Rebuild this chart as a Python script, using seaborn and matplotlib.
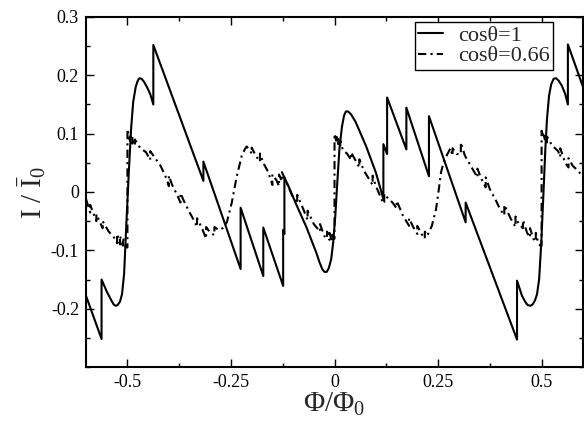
import numpy as np
import pandas as pd
import matplotlib
matplotlib.use("Agg")
import matplotlib.pyplot as plt
import seaborn as sns
from matplotlib.ticker import MultipleLocator

# cos(theta)=1 curve (duplicate x = vertical jump)
phi_1 = [-0.600, -0.5625, -0.5625, -0.549, -0.538, -0.533, -0.529, -0.524, -0.518, -0.513,
         -0.508, -0.503, -0.497, -0.491, -0.486, -0.480, -0.475, -0.471, -0.466, -0.460,
         -0.453, -0.445, -0.4375, -0.4375, -0.3166, -0.3166, -0.2267, -0.2267, -0.172,
         -0.172, -0.124, -0.124, -0.121, -0.121, -0.110, -0.092, -0.068, -0.044, -0.036,
         -0.029, -0.024, -0.019, -0.014, -0.008, -0.003, 0.002, 0.007, 0.012, 0.018,
         0.023, 0.0275, 0.033, 0.040, 0.051, 0.076, 0.100, 0.118, 0.118, 0.127, 0.127,
         0.1735, 0.1735, 0.228, 0.228, 0.3166, 0.3166, 0.4407, 0.4407, 0.4527, 0.462,
         0.467, 0.473, 0.478, 0.484, 0.489, 0.494, 0.499, 0.504, 0.509, 0.513, 0.518,
         0.523, 0.529, 0.535, 0.541, 0.549, 0.557, 0.5635, 0.5635, 0.600]
cur_1 = [-0.178, -0.252, -0.150, -0.172, -0.187, -0.193, -0.195, -0.194, -0.188, -0.175,
         -0.140, -0.060, 0.030, 0.110, 0.155, 0.180, 0.191, 0.195, 0.194, 0.189,
         0.180, 0.168, 0.150, 0.252, 0.019, 0.052, -0.132, -0.027, -0.144,
         -0.061, -0.161, -0.065, -0.072, 0.025, 0.008, -0.022, -0.060, -0.104, -0.121,
         -0.133, -0.137, -0.137, -0.131, -0.115, -0.085, -0.040, 0.020, 0.075, 0.112,
         0.131, 0.138, 0.138, 0.133, 0.120, 0.079, 0.033, -0.012, 0.082, 0.065, 0.162,
         0.073, 0.1445, 0.027, 0.130, -0.052, -0.018, -0.253, -0.152, -0.178, -0.190,
         -0.194, -0.195, -0.193, -0.186, -0.175, -0.150, -0.090, -0.010, 0.073, 0.125, 0.165,
         0.184, 0.194, 0.195, 0.191, 0.182, 0.168, 0.150, 0.253, 0.180]

# cos(theta)=0.66 curve, with its small saw teeth
phi_2 = [-0.600, -0.590, -0.590, -0.575, -0.575, -0.560, -0.560, -0.545, -0.530,
         -0.525, -0.525, -0.518, -0.518, -0.511, -0.511, -0.503, -0.500, -0.500,
         -0.494, -0.494, -0.488, -0.488, -0.482, -0.482, -0.470, -0.455, -0.445,
         -0.445, -0.435, -0.420, -0.405, -0.400, -0.400, -0.392, -0.380, -0.372,
         -0.372, -0.364, -0.350, -0.340, -0.332, -0.332, -0.320, -0.310, -0.310,
         -0.300, -0.290, -0.290, -0.280, -0.270, -0.260, -0.248, -0.236, -0.224,
         -0.216, -0.212, -0.205, -0.200, -0.200, -0.190, -0.180, -0.180, -0.172,
         -0.160, -0.150, -0.150, -0.140, -0.134, -0.134, -0.127, -0.127, -0.118,
         -0.100, -0.090, -0.090, -0.075, -0.065, -0.065, -0.050, -0.035, -0.035,
         -0.025, -0.018, -0.018, -0.012, -0.012, -0.006, -0.006, -0.002, 0.000,
         0.000, 0.004, 0.004, 0.009, 0.009, 0.014, 0.014, 0.020, 0.030, 0.040,
         0.040, 0.050, 0.060, 0.060, 0.070, 0.085, 0.092, 0.092, 0.100, 0.118,
         0.120, 0.120, 0.130, 0.140, 0.150, 0.150, 0.165, 0.180, 0.180, 0.190,
         0.200, 0.200, 0.210, 0.218, 0.218, 0.224, 0.235, 0.245, 0.251, 0.257,
         0.263, 0.269, 0.275, 0.280, 0.285, 0.285, 0.295, 0.305, 0.305, 0.315,
         0.333, 0.345, 0.345, 0.355, 0.365, 0.365, 0.375, 0.390, 0.400, 0.410,
         0.410, 0.425, 0.437, 0.437, 0.445, 0.455, 0.455, 0.465, 0.472, 0.472,
         0.480, 0.486, 0.486, 0.492, 0.497, 0.500, 0.500, 0.504, 0.504, 0.508,
         0.508, 0.513, 0.513, 0.525, 0.540, 0.545, 0.545, 0.557, 0.565, 0.565,
         0.575, 0.590, 0.600]
cur_2 = [-0.012, -0.035, -0.022, -0.050, -0.038, -0.062, -0.050, -0.068, -0.080,
         -0.088, -0.072, -0.090, -0.075, -0.092, -0.078, -0.095, -0.095, 0.108,
         0.088, 0.100, 0.083, 0.095, 0.080, 0.090, 0.076, 0.068, 0.055,
         0.070, 0.060, 0.045, 0.022, 0.010, 0.028, 0.012, -0.005, -0.018,
         -0.002, -0.015, -0.035, -0.048, -0.060, -0.045, -0.062, -0.080, -0.060,
         -0.070, -0.074, -0.060, -0.065, -0.062, -0.052, -0.018, 0.027, 0.062,
         0.074, 0.078, 0.072, 0.066, 0.076, 0.062, 0.052, 0.066, 0.050,
         0.034, 0.012, 0.030, 0.020, 0.010, 0.030, 0.018, 0.034, 0.020,
         -0.010, -0.020, -0.005, -0.030, -0.048, -0.032, -0.055, -0.068, -0.055,
         -0.075, -0.080, -0.068, -0.082, -0.070, -0.085, -0.072, -0.080, -0.080,
         0.100, 0.088, 0.098, 0.082, 0.093, 0.077, 0.088, 0.072, 0.066, 0.055,
         0.068, 0.055, 0.042, 0.056, 0.038, 0.020, 0.012, 0.028, 0.010, -0.020,
         -0.018, -0.003, -0.012, -0.018, -0.028, -0.015, -0.040, -0.058, -0.045, -0.060,
         -0.072, -0.058, -0.072, -0.080, -0.068, -0.075, -0.058, -0.030, 0.000, 0.033,
         0.050, 0.060, 0.068, 0.075, 0.062, 0.075, 0.065, 0.065, 0.085, 0.062,
         0.040, 0.025, 0.040, 0.022, 0.008, 0.025, 0.005, -0.015, -0.030, -0.040,
         -0.022, -0.045, -0.060, -0.042, -0.055, -0.062, -0.048, -0.070, -0.078, -0.062,
         -0.080, -0.085, -0.070, -0.088, -0.092, -0.092, 0.105, 0.095, 0.102, 0.090,
         0.100, 0.085, 0.095, 0.080, 0.070, 0.060, 0.075, 0.050, 0.042, 0.058,
         0.045, 0.035, 0.025]

labels = ["cos\u03b8=1", "cos\u03b8=0.66"]
x_ticks = [-0.5, -0.25, 0, 0.25, 0.5]
x_tick_labels = ["-0.5", "-0.25", "0", "0.25", "0.5"]
y_ticks = [-0.2, -0.1, 0, 0.1, 0.2, 0.3]
y_tick_labels = ["-0.2", "-0.1", "0", "0.1", "0.2", "0.3"]

sns.set_style("ticks")
plt.rcParams["font.family"] = ["Liberation Serif", "DejaVu Serif"]
plt.rcParams["mathtext.fontset"] = "custom"
plt.rcParams["mathtext.rm"] = "Liberation Serif"
plt.rcParams["mathtext.it"] = "Liberation Serif:italic"

fig = plt.figure(figsize=(5.84, 4.24), dpi=100)
ax = fig.add_axes([0.1473, 0.1344, 0.851, 0.8256])

df1 = pd.DataFrame({"phi": phi_1, "I": cur_1})
df2 = pd.DataFrame({"phi": phi_2, "I": cur_2})
sns.lineplot(data=df1, x="phi", y="I", estimator=None, sort=False, ax=ax,
             color="black", lw=1.5, label=labels[0])
sns.lineplot(data=df2, x="phi", y="I", estimator=None, sort=False, ax=ax,
             color="black", lw=1.5, linestyle=(0, (4, 2, 1, 2)), label=labels[1])

ax.set_xlim(-0.6, 0.6)
ax.set_ylim(-0.3, 0.3)
ax.set_xticks(x_ticks)
ax.set_xticklabels(x_tick_labels)
ax.set_yticks(y_ticks)
ax.set_yticklabels(y_tick_labels)
ax.xaxis.set_minor_locator(MultipleLocator(0.125))
ax.yaxis.set_minor_locator(MultipleLocator(0.05))
ax.tick_params(which="both", direction="in", top=True, right=True, labelsize=13,
               width=1, colors="black")
ax.tick_params(which="major", length=6, pad=5)
ax.tick_params(which="minor", length=3)
for s in ax.spines.values():
    s.set_linewidth(1.5)
    s.set_color("black")

ax.set_xlabel(r"$\Phi/\Phi_0$", fontsize=21, labelpad=0)
ax.set_ylabel(r"$\mathrm{I}\ /\ \bar{\mathrm{I}}_0$", fontsize=21, labelpad=2)

leg = ax.legend(loc="upper right", bbox_to_anchor=(0.94, 0.986), borderaxespad=0,
                fontsize=16, frameon=True, fancybox=False, handlelength=1.1,
                handletextpad=0.7, labelspacing=0.0, borderpad=0.15)
leg.get_frame().set_edgecolor("black")
leg.get_frame().set_linewidth(1.0)
leg.get_frame().set_alpha(1)

fig.savefig("out.png", dpi=100)
